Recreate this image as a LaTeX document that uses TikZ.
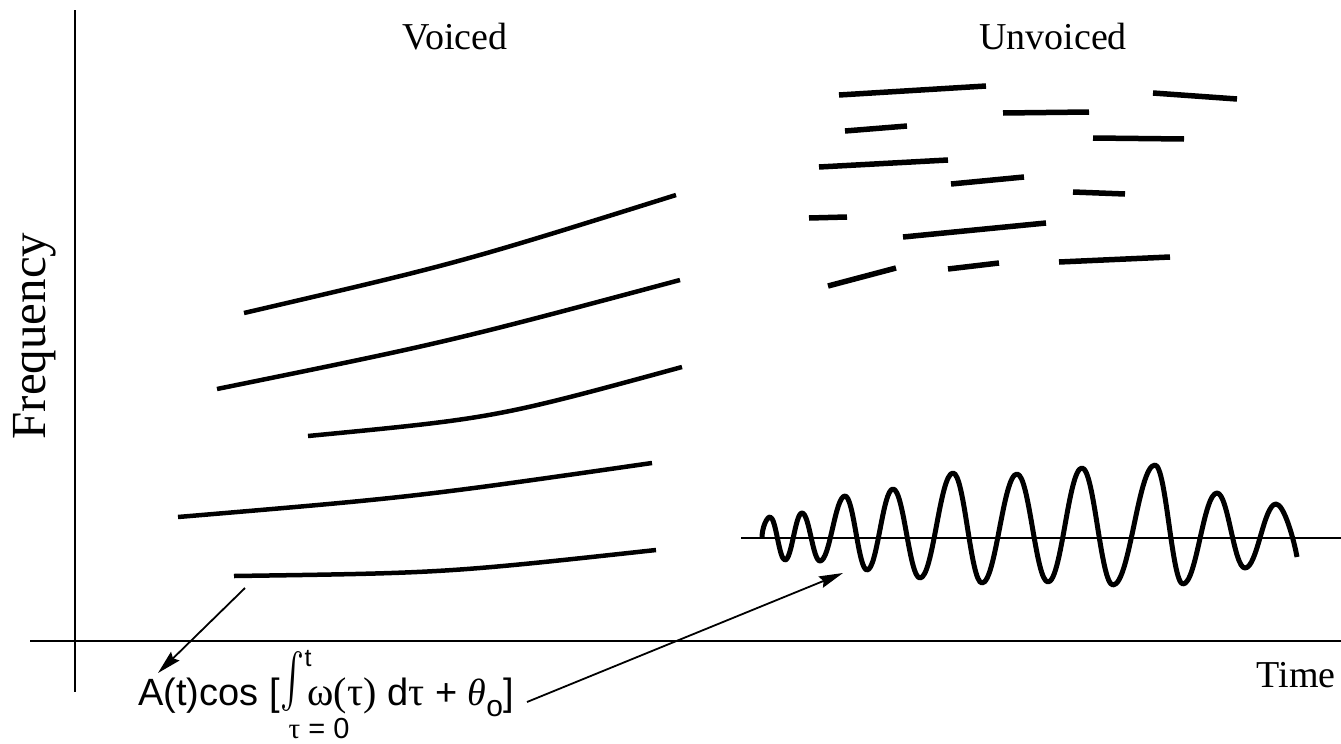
\documentclass[tikz,border=0pt]{standalone}
\usepackage{fontspec}
\usepackage{graphicx}
\setmainfont{Liberation Serif}
\setsansfont{Liberation Sans}
\usetikzlibrary{arrows.meta}
\tikzset{
  axisline/.style={line width=2.8pt},
  voicedline/.style={line width=4.5pt},
  noise/.style={line width=5.5pt},
  wave/.style={line width=5pt, line join=round},
  baseline/.style={line width=2.8pt},
  pointer/.style={line width=1.8pt, -{Stealth[length=24pt,width=12pt,inset=3pt]}},
  lbl/.style={font=\fontsize{38}{40}\selectfont, inner sep=0pt},
}
\begin{document}
\begin{tikzpicture}[x=1pt,y=-1pt]
\useasboundingbox (0,0) rectangle (1341,744);
% axes
\draw[axisline] (75,10) -- (75,692);
\draw[axisline] (30,641) -- (1341,641);
% labels
\node[lbl, anchor=base] (voiced) at (455,49) {Voiced};
\node[lbl, anchor=base] (unvoiced) at (1053,49) {Unvoiced};
\node[lbl, anchor=base east] (time) at (1336,687) {Time};
\node[lbl, font=\fontsize{49}{51}\selectfont, rotate=90, anchor=base] (freq) at (45,336) {Frequency};
% voiced harmonics
\draw[voicedline] (244,313) .. controls (459,263) .. (676,195);
\draw[voicedline] (217,389) .. controls (448,342) .. (680,280);
\draw[voicedline] (308,436) .. controls (495,418) .. (682,367);
\draw[voicedline] (178,517) .. controls (415,497) .. (652,463);
\draw[voicedline] (234,576) .. controls (445,573) .. (656,550);
% unvoiced noise segments
\draw[noise] (839,95) -- (986,86);
\draw[noise] (1153,93) -- (1237,99);
\draw[noise] (1003,113) -- (1089,112);
\draw[noise] (845,131) -- (907,126);
\draw[noise] (1093,138) -- (1184,139);
\draw[noise] (819,167) -- (948,160);
\draw[noise] (951,184) -- (1024,177);
\draw[noise] (1073,192) -- (1125,194);
\draw[noise] (809,218) -- (847,217);
\draw[noise] (903,237) -- (1046,223);
\draw[noise] (828,286) -- (896,268);
\draw[noise] (948,269) -- (999,263);
\draw[noise] (1059,262) -- (1170,257);
% waveform
\draw[baseline] (741,538) -- (1341,538);
\draw[wave] (762,538)
  .. controls (762,527) and (767,517) .. (770,517)
  .. controls (776,517) and (779,560) .. (785,560)
  .. controls (791.8,560) and (795.2,513) .. (802,513)
  .. controls (809.2,513) and (812.8,561) .. (820,561)
  .. controls (830,561) and (835,496) .. (845,496)
  .. controls (853.8,496) and (858.2,570) .. (867,570)
  .. controls (877.4,570) and (882.6,489) .. (893,489)
  .. controls (903.8,489) and (909.2,578) .. (920,578)
  .. controls (933.2,578) and (939.8,473) .. (953,473)
  .. controls (964.6,473) and (970.4,583) .. (982,583)
  .. controls (996,583) and (1003,474) .. (1017,474)
  .. controls (1029.4,474) and (1035.6,582) .. (1048,582)
  .. controls (1061.6,582) and (1068.4,468) .. (1082,468)
  .. controls (1094.4,468) and (1100.6,585) .. (1113,585)
  .. controls (1129.8,585) and (1138.2,465) .. (1155,465)
  .. controls (1166.2,465) and (1171.8,584) .. (1183,584)
  .. controls (1196.6,584) and (1203.4,493) .. (1217,493)
  .. controls (1228.2,493) and (1233.8,568) .. (1245,568)
  .. controls (1257.4,568) and (1263.6,504) .. (1276,504)
  .. controls (1284,504) and (1294,540) .. (1297,557);
% formula
\node[anchor=base west, inner sep=0pt, font=\sffamily\fontsize{38}{40}\selectfont] (formula) at (138,705)
  {A(t)cos [\hspace{1pt}\raisebox{-9.8pt}{\scalebox{3.6}[5.4]{$\int$}}\hspace{3pt}{\rmfamily\fontsize{40}{42}\selectfont ω(τ)} d{\rmfamily\fontsize{40}{42}\selectfont τ} + {\rmfamily\itshape θ}\raisebox{-11pt}{\fontsize{30}{30}\selectfont o}]};
\node[anchor=base, inner sep=0pt, font=\sffamily\fontsize{25}{27}\selectfont] (upper) at (308,666) {t};
\node[anchor=base, inner sep=0pt, font=\sffamily\fontsize{29}{31}\selectfont] (lower) at (319,738) {{\rmfamily τ} = 0};
% pointers
\coordinate (hstart) at (245,588);
\coordinate (htip) at (158,673);
\coordinate (wtail) at (527,702);
\coordinate (wtip) at (843,573);
\draw[pointer] (hstart) -- (htip);
\draw[pointer] (wtail) -- (wtip);
\end{tikzpicture}
\end{document}
